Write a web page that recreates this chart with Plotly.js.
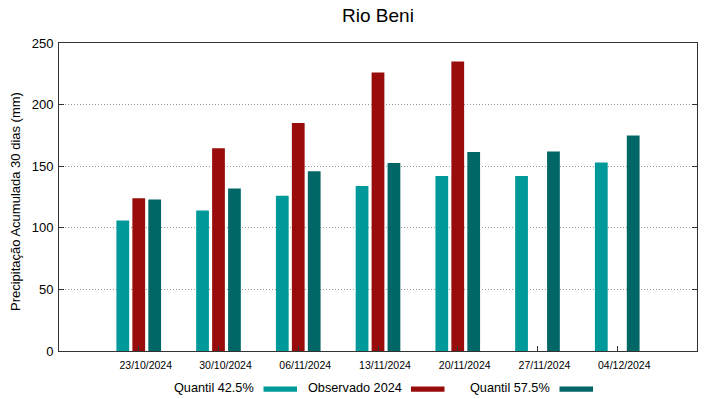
<!DOCTYPE html>
<html>
<head>
<meta charset="utf-8">
<script src="https://cdn.plot.ly/plotly-3.0.1.min.js"></script>
<style>html,body{margin:0;padding:0;background:#fff;}#chart{width:719px;height:399px;}</style>
</head>
<body>
<div id="chart"></div>
<script>
// Data
const dates = ["23/10/2024","30/10/2024","06/11/2024","13/11/2024","20/11/2024","27/11/2024","04/12/2024"];
const seriesNames = ["Quantil 42.5%","Observado 2024","Quantil 57.5%"];
const quantil425 = [106, 114, 126, 134, 142, 142, 153];
const observado2024 = [124, 164.5, 185, 226, 235, null, null];
const quantil575 = [123, 132, 146, 152.5, 161.5, 162, 175];
const yTitle = "Precipitação Acumulada 30 dias (mm)";
const colors = ["#009999", "#990c0c", "#006666"];

const allSeries = [quantil425, observado2024, quantil575];
const traces = allSeries.map((vals, i) => ({
  type: "bar",
  x: dates,
  y: vals,
  name: seriesNames[i],
  marker: {color: colors[i], line: {width: 0}},
  showlegend: false,
  hoverinfo: "x+y+name"
}));

// Plot area pixel geometry (for custom legend / title placement)
const W = 719, H = 399;
const M = {l: 59, r: 22, t: 43, b: 48};
const pw = W - M.l - M.r, ph = H - M.t - M.b;
const px = x => (x - M.l) / pw;
const py = y => (H - M.b - y) / ph;

const annotations = [], shapes = [];
// Y axis title
annotations.push({
  xref: "paper", yref: "paper",
  x: px(15.5), y: py(201.5),
  xanchor: "center", yanchor: "middle",
  textangle: -90, text: yTitle, showarrow: false,
  font: {family: "Liberation Sans, Arial, sans-serif", size: 13, color: "#000"}
});
// Custom legend: label followed by colour swatch
const legendTextEnd = [256, 403.5, 552];
seriesNames.forEach((n, i) => {
  annotations.push({
    xref: "paper", yref: "paper",
    x: px(legendTextEnd[i]), y: py(387.5),
    xanchor: "right", yanchor: "middle",
    text: n, showarrow: false,
    font: {family: "Liberation Sans, Arial, sans-serif", size: 12.7, color: "#000"}
  });
  shapes.push({
    type: "rect", xref: "paper", yref: "paper",
    x0: px(legendTextEnd[i] + 7.5), x1: px(legendTextEnd[i] + 41),
    y0: py(391.7), y1: py(386.5),
    fillcolor: colors[i], line: {width: 0}
  });
});

const layout = {
  width: W, height: H,
  margin: M,
  paper_bgcolor: "#fff",
  plot_bgcolor: "#fff",
  font: {family: "Liberation Sans, Arial, sans-serif", color: "#000"},
  title: {text: "Rio Beni", font: {size: 19, color: "#000"}, x: 0.5, xref: "paper", y: 0.962, yanchor: "middle"},
  barmode: "group",
  bargap: 0.4,
  bargroupgap: 0.2,
  showlegend: false,
  xaxis: {
    type: "category",
    range: [-1, 7],
    showgrid: false,
    showline: true, linecolor: "#333", linewidth: 1, mirror: true,
    ticks: "inside", ticklen: 5, tickcolor: "#333",
    tickfont: {size: 10.5, color: "#000"},
    ticklabelshift: 7,
    ticklabelstandoff: 4,
    fixedrange: true
  },
  yaxis: {
    range: [0, 250],
    tickvals: [0, 50, 100, 150, 200, 250],
    showgrid: true, gridcolor: "#999", griddash: "1px,2px", gridwidth: 1,
    zeroline: false,
    showline: true, linecolor: "#333", linewidth: 1, mirror: "allticks",
    ticks: "inside", ticklen: 5, tickcolor: "#333",
    tickfont: {size: 13, color: "#000"},
    ticklabelstandoff: 2,
    fixedrange: true
  },
  annotations: annotations,
  shapes: shapes
};

Plotly.newPlot("chart", traces, layout, {displayModeBar: false, staticPlot: true});
</script>
</body>
</html>
